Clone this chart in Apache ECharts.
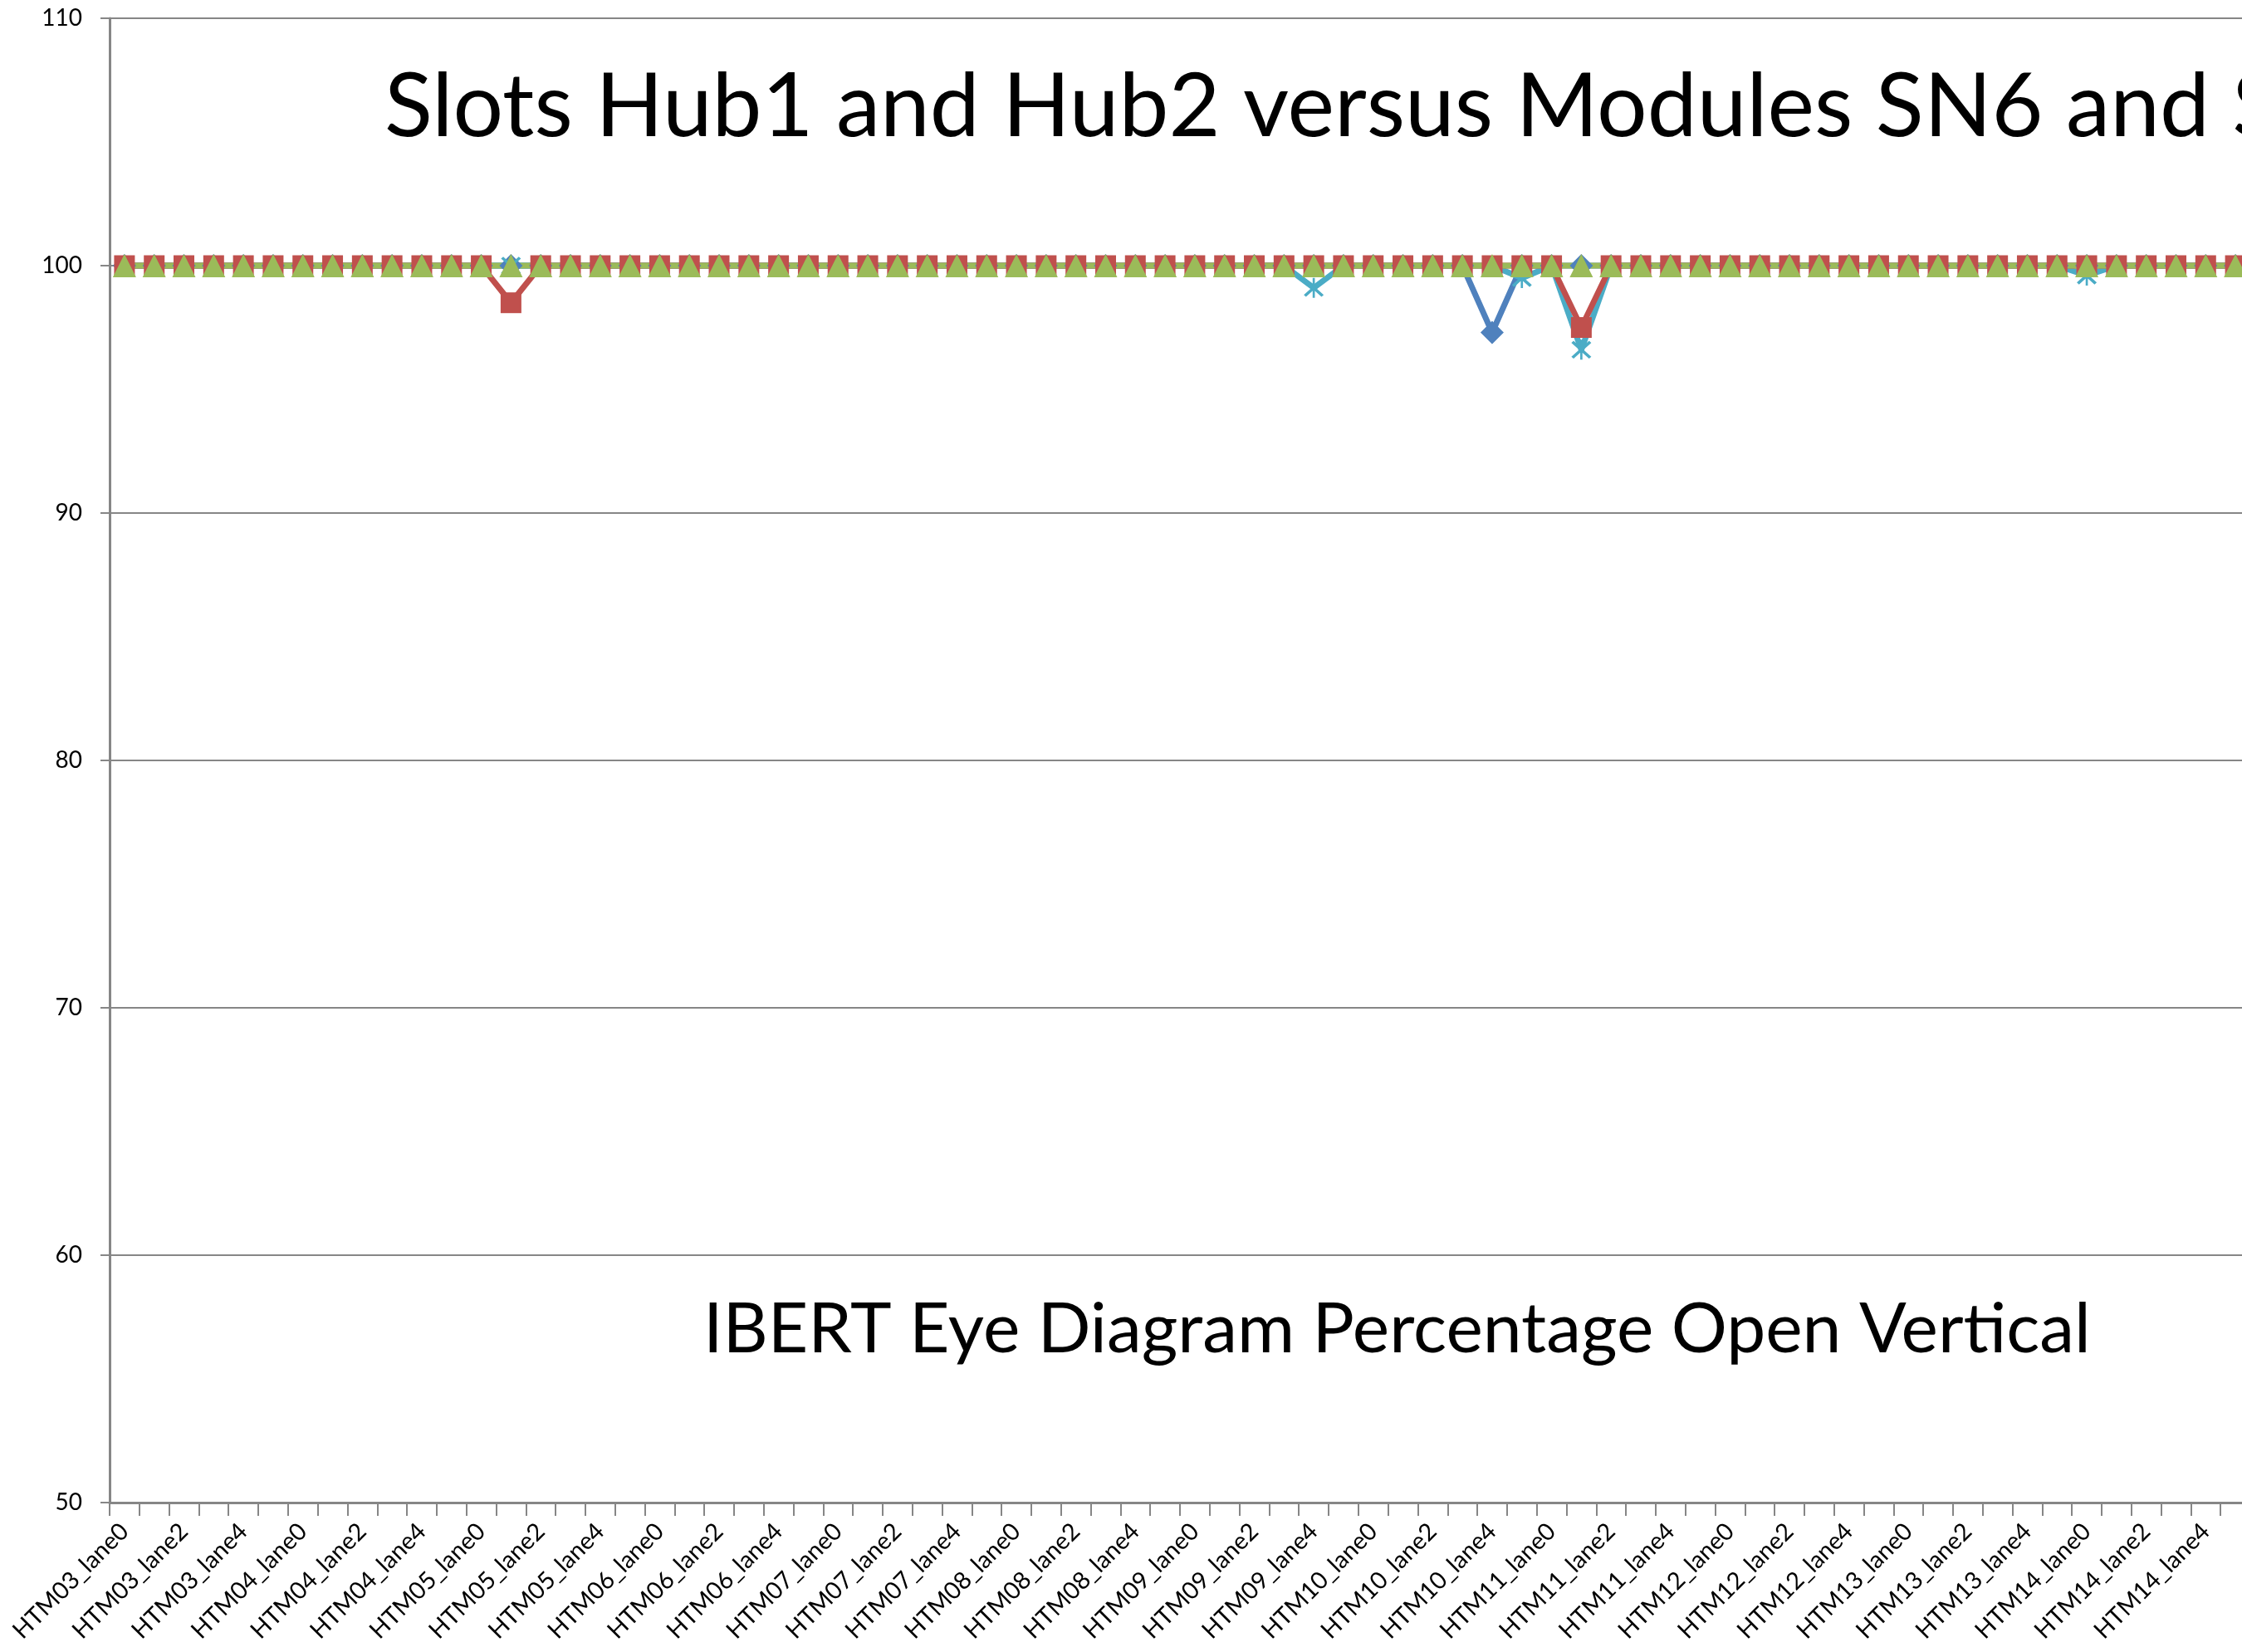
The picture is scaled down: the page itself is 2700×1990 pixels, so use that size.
<!DOCTYPE html>
<html>
<head>
<meta charset="utf-8">
<script src="https://cdn.jsdelivr.net/npm/echarts@6/dist/echarts.min.js"></script>
<style>
  html, body { margin: 0; padding: 0; background: #fff; overflow: hidden; width: 2700px; height: 1990px; }
  #chart { width: 3000px; height: 1990px; }
</style>
</head>
<body>
<div id="chart"></div>
<script>
// categories: 6 lanes per HTM slot, labels shown on every second one
const categories = [
  'HTM03_lane0', 'HTM03_lane1', 'HTM03_lane2', 'HTM03_lane3', 'HTM03_lane4', 'HTM03_lane5',
  'HTM04_lane0', 'HTM04_lane1', 'HTM04_lane2', 'HTM04_lane3', 'HTM04_lane4', 'HTM04_lane5',
  'HTM05_lane0', 'HTM05_lane1', 'HTM05_lane2', 'HTM05_lane3', 'HTM05_lane4', 'HTM05_lane5',
  'HTM06_lane0', 'HTM06_lane1', 'HTM06_lane2', 'HTM06_lane3', 'HTM06_lane4', 'HTM06_lane5',
  'HTM07_lane0', 'HTM07_lane1', 'HTM07_lane2', 'HTM07_lane3', 'HTM07_lane4', 'HTM07_lane5',
  'HTM08_lane0', 'HTM08_lane1', 'HTM08_lane2', 'HTM08_lane3', 'HTM08_lane4', 'HTM08_lane5',
  'HTM09_lane0', 'HTM09_lane1', 'HTM09_lane2', 'HTM09_lane3', 'HTM09_lane4', 'HTM09_lane5',
  'HTM10_lane0', 'HTM10_lane1', 'HTM10_lane2', 'HTM10_lane3', 'HTM10_lane4', 'HTM10_lane5',
  'HTM11_lane0', 'HTM11_lane1', 'HTM11_lane2', 'HTM11_lane3', 'HTM11_lane4', 'HTM11_lane5',
  'HTM12_lane0', 'HTM12_lane1', 'HTM12_lane2', 'HTM12_lane3', 'HTM12_lane4', 'HTM12_lane5',
  'HTM13_lane0', 'HTM13_lane1', 'HTM13_lane2', 'HTM13_lane3', 'HTM13_lane4', 'HTM13_lane5',
  'HTM14_lane0', 'HTM14_lane1', 'HTM14_lane2', 'HTM14_lane3', 'HTM14_lane4', 'HTM14_lane5'
]

// percentage open
const hub1SN6 = [
  100, 100, 100, 100, 100, 100,
  100, 100, 100, 100, 100, 100,
  100, 100, 100, 100, 100, 100,
  100, 100, 100, 100, 100, 100,
  100, 100, 100, 100, 100, 100,
  100, 100, 100, 100, 100, 100,
  100, 100, 100, 100, 100, 100,
  100, 100, 100, 100, 97.3, 100,
  100, 100, 100, 100, 100, 100,
  100, 100, 100, 100, 100, 100,
  100, 100, 100, 100, 100, 100,
  100, 100, 100, 100, 100, 100
]
const hub2SN7 = [
  100, 100, 100, 100, 100, 100,
  100, 100, 100, 100, 100, 100,
  100, 100, 100, 100, 100, 100,
  100, 100, 100, 100, 100, 100,
  100, 100, 100, 100, 100, 100,
  100, 100, 100, 100, 100, 100,
  100, 100, 100, 100, 99.1, 100,
  100, 100, 100, 100, 100, 99.5,
  100, 96.6, 100, 100, 100, 100,
  100, 100, 100, 100, 100, 100,
  100, 100, 100, 100, 100, 100,
  99.6, 100, 100, 100, 100, 100
]
const hub2SN6 = [
  100, 100, 100, 100, 100, 100,
  100, 100, 100, 100, 100, 100,
  100, 98.5, 100, 100, 100, 100,
  100, 100, 100, 100, 100, 100,
  100, 100, 100, 100, 100, 100,
  100, 100, 100, 100, 100, 100,
  100, 100, 100, 100, 100, 100,
  100, 100, 100, 100, 100, 100,
  100, 97.5, 100, 100, 100, 100,
  100, 100, 100, 100, 100, 100,
  100, 100, 100, 100, 100, 100,
  100, 100, 100, 100, 100, 100
]
const hub1SN7 = [
  100, 100, 100, 100, 100, 100,
  100, 100, 100, 100, 100, 100,
  100, 100, 100, 100, 100, 100,
  100, 100, 100, 100, 100, 100,
  100, 100, 100, 100, 100, 100,
  100, 100, 100, 100, 100, 100,
  100, 100, 100, 100, 100, 100,
  100, 100, 100, 100, 100, 100,
  100, 100, 100, 100, 100, 100,
  100, 100, 100, 100, 100, 100,
  100, 100, 100, 100, 100, 100,
  100, 100, 100, 100, 100, 100
]
const yTicks = [50, 60, 70, 80, 90, 100, 110]

const fontFamily = 'Lato'
const grey = '#868686'
const asterisk = 'path://M9,0 L11,0 L11,20 L9,20 Z M1,3 L3,1 L19,17 L17,19 Z M17,1 L19,3 L3,19 L1,17 Z'

function lineSeries(name, data, color, symbol, size) {
  return {
    name: name,
    type: 'line',
    data: data,
    symbol: symbol,
    symbolSize: size,
    showSymbol: true,
    showAllSymbol: true,
    lineStyle: {color: color, width: 7},
    itemStyle: {color: color},
    animation: false
  }
}

const chart = echarts.init(document.getElementById('chart'), null, {renderer: 'canvas'})
chart.setOption({
  backgroundColor: '#fff',
  animation: false,
  title: [
    {
      text: 'Slots Hub1 and Hub2 versus Modules SN6 and SN7',
      left: 463,
      top: 76,
      padding: 0,
      textStyle: {fontFamily: fontFamily, fontWeight: 'normal', fontSize: 107, color: '#000'}
    },
    {
      text: 'IBERT Eye Diagram Percentage Open Vertical',
      left: 847,
      top: 1560,
      padding: 0,
      textStyle: {fontFamily: fontFamily, fontWeight: 'normal', fontSize: 84, color: '#000'}
    }
  ],
  grid: {left: 132, right: 290, top: 22, bottom: 180, containLabel: false},
  xAxis: {
    type: 'category',
    data: categories,
    boundaryGap: true,
    axisLine: {lineStyle: {color: grey, width: 3}},
    axisTick: {show: true, interval: 0, length: 16, lineStyle: {color: grey, width: 2}},
    axisLabel: {
      interval: 1,
      rotate: 45,
      margin: 30,
      fontFamily: fontFamily,
      fontSize: 29,
      color: '#000'
    },
    splitLine: {show: false}
  },
  yAxis: {
    type: 'value',
    min: yTicks[0],
    max: yTicks[yTicks.length - 1],
    interval: 10,
    axisLine: {show: true, lineStyle: {color: grey, width: 3}},
    axisTick: {show: true, length: 11, lineStyle: {color: grey, width: 2}},
    axisLabel: {margin: 33, fontFamily: fontFamily, fontSize: 28, color: '#000'},
    splitLine: {show: true, lineStyle: {color: grey, width: 2}}
  },
  series: [
    lineSeries('Hub1 SN6', hub1SN6, '#4F81BD', 'diamond', 28),
    lineSeries('Hub2 SN7', hub2SN7, '#4BACC6', asterisk, 24),
    lineSeries('Hub2 SN6', hub2SN6, '#C0504D', 'rect', 25),
    lineSeries('Hub1 SN7', hub1SN7, '#9BBB59', 'triangle', 28)
  ]
})
</script>
</body>
</html>
